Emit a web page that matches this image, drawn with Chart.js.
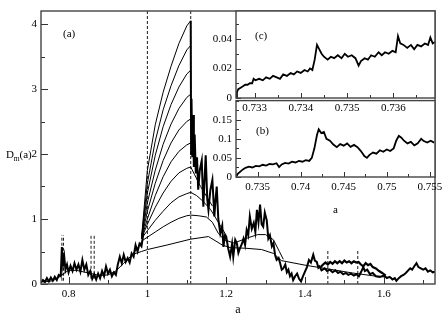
<!DOCTYPE html>
<html>
<head>
<meta charset="utf-8">
<script src="https://cdn.jsdelivr.net/npm/chart.js@4.4.1/dist/chart.umd.min.js"></script>
<style>
  html, body { margin: 0; padding: 0; background: #fff; }
  #wrap { position: relative; width: 447px; height: 327px; overflow: hidden; }
  canvas { position: absolute; }
  #mainChart { left: 0; top: 0; }
  #insetB { left: 196px; top: 90px; }
  #insetC { left: 196px; top: 0; }
</style>
</head>
<body>
<div id="wrap">
  <canvas id="mainChart" width="447" height="327"></canvas>
  <canvas id="insetB" width="251" height="130"></canvas>
  <canvas id="insetC" width="251" height="120"></canvas>
</div>
<script>
// ---- main panel (a): D_m(a) against a ----
const mainXTicks = [0.8, 1, 1.2, 1.4, 1.6];
const mainYTicks = [0, 1, 2, 3, 4];

// measured (noisy) curve; null splits it where the fan takes over
const mainA = [0.730, 0.735, 0.740, 0.745, 0.750, 0.755, 0.760, 0.765, 0.770, 0.775, 0.780, 0.783, 0.786, 0.789,
    0.792, 0.796, 0.800, 0.805, 0.810, 0.815, 0.820, 0.825, 0.830, 0.835, 0.840, 0.845, 0.850, 0.855, 0.860, 0.865,
    0.870, 0.875, 0.880, 0.885, 0.890, 0.895, 0.900, 0.905, 0.910, 0.915, 0.920, 0.925, 0.930, 0.935, 0.940, 0.945,
    0.950, 0.955, 0.960, 0.965, 0.970, 0.975, 0.980, 0.985, 0.990, 1.050,
    1.110, 1.111, 1.112, 1.114, 1.116, 1.118, 1.120, 1.123, 1.126, 1.129, 1.133, 1.138, 1.142, 1.145, 1.148, 1.152,
    1.155, 1.160, 1.165, 1.170, 1.173, 1.176, 1.180, 1.185, 1.190, 1.193, 1.197, 1.200, 1.205, 1.210, 1.215, 1.218,
    1.223, 1.227, 1.231, 1.235, 1.240, 1.244, 1.248, 1.252, 1.256, 1.260, 1.265, 1.270, 1.274, 1.278, 1.282, 1.286,
    1.290, 1.294, 1.298, 1.303, 1.307, 1.311, 1.316, 1.320, 1.324, 1.328, 1.333, 1.337, 1.341, 1.345, 1.350, 1.354,
    1.358, 1.362, 1.366, 1.370, 1.375, 1.380, 1.385, 1.390, 1.395, 1.400, 1.405, 1.410, 1.415, 1.421, 1.425, 1.430,
    1.434, 1.437, 1.442, 1.450, 1.456, 1.463, 1.470, 1.477, 1.484, 1.490, 1.497, 1.504, 1.510, 1.517, 1.524, 1.530,
    1.537, 1.542, 1.548, 1.552, 1.558, 1.565, 1.572, 1.580, 1.590, 1.600, 1.608, 1.615, 1.622, 1.628, 1.632, 1.638,
    1.644, 1.650, 1.656, 1.662, 1.667, 1.672, 1.677, 1.683, 1.688, 1.694, 1.700, 1.706, 1.712, 1.718, 1.724, 1.730];
const mainD = [0.02, 0.06, 0.03, 0.09, 0.04, 0.10, 0.05, 0.11, 0.06, 0.14, 0.12, 0.57, 0.30, 0.42,
    0.22, 0.30, 0.18, 0.28, 0.20, 0.32, 0.22, 0.30, 0.19, 0.37, 0.22, 0.30, 0.14, 0.20, 0.08, 0.15,
    0.07, 0.16, 0.09, 0.20, 0.12, 0.27, 0.16, 0.22, 0.12, 0.18, 0.14, 0.30, 0.42, 0.32, 0.45, 0.34,
    0.40, 0.33, 0.47, 0.42, 0.60, 0.50, 0.62, 0.58, 0.78, null,
    4.05, 2.00, 2.85, 1.95, 2.60, 1.80, 2.30, 1.70, 1.95, 1.45, 1.75, 1.90, 1.19, 1.60, 1.98, 1.30,
    1.14, 1.45, 1.60, 1.04, 1.30, 1.50, 1.00, 0.78, 0.90, 0.57, 0.75, 0.73, 0.55, 0.42, 0.62, 0.42,
    0.68, 0.63, 0.48, 0.55, 0.62, 0.70, 0.60, 0.83, 0.75, 1.04, 0.85, 0.94, 0.80, 1.14, 0.95, 1.22,
    0.92, 0.88, 1.10, 0.98, 0.70, 0.75, 0.58, 0.63, 0.45, 0.37, 0.40, 0.32, 0.22, 0.24, 0.30, 0.18,
    0.22, 0.12, 0.16, 0.06, 0.12, 0.16, 0.08, 0.04, 0.12, 0.19, 0.26, 0.37, 0.33, 0.45, 0.36, 0.34,
    0.25, 0.27, 0.21, 0.24, 0.20, 0.22, 0.18, 0.21, 0.17, 0.19, 0.15, 0.17, 0.14, 0.16, 0.13, 0.15,
    0.12, 0.18, 0.26, 0.20, 0.22, 0.15, 0.17, 0.12, 0.11, 0.13, 0.09, 0.11, 0.07, 0.09, 0.05, 0.09,
    0.12, 0.14, 0.17, 0.21, 0.24, 0.22, 0.27, 0.32, 0.26, 0.24, 0.22, 0.24, 0.19, 0.21, 0.18, 0.19];

// upper branch between the two dashed marks near 1.5
const branchA = [1.440, 1.446, 1.452, 1.458, 1.464, 1.470, 1.476, 1.482, 1.488, 1.494, 1.500, 1.506, 1.512, 1.518,
    1.524, 1.530, 1.536, 1.542, 1.548, 1.554, 1.560, 1.566, 1.572, 1.580, 1.588, 1.596, 1.605];
const branchD = [0.26, 0.30, 0.33, 0.30, 0.34, 0.31, 0.35, 0.32, 0.35, 0.32, 0.36, 0.33, 0.35, 0.32,
    0.35, 0.33, 0.34, 0.30, 0.27, 0.32, 0.29, 0.31, 0.26, 0.24, 0.20, 0.17, 0.13];

// fan of smooth curves between a = 1 and a = 1.11
const fanA = [0.985, 1.0, 1.02, 1.04, 1.06, 1.08, 1.10, 1.11];
const fanCurves = [
    [0.70, 1.75, 2.45, 2.95, 3.35, 3.70, 3.97, 4.05],
    [0.70, 1.55, 2.20, 2.68, 3.05, 3.36, 3.60, 3.67],
    [0.70, 1.40, 1.98, 2.42, 2.76, 3.03, 3.23, 3.29],
    [0.70, 1.25, 1.75, 2.15, 2.46, 2.70, 2.87, 2.92],
    [0.70, 1.12, 1.55, 1.90, 2.17, 2.37, 2.50, 2.54],
    [0.70, 1.00, 1.36, 1.65, 1.88, 2.04, 2.14, 2.17],
    [0.70, 0.92, 1.18, 1.40, 1.58, 1.71, 1.78, 1.80],
    [0.70, 0.82, 0.98, 1.12, 1.25, 1.34, 1.39, 1.41],
    [0.66, 0.72, 0.80, 0.88, 0.95, 1.01, 1.05, 1.06]
];
const tail180A = [1.12, 1.135, 1.15, 1.165];
const tail180D = [1.68, 1.50, 1.35, 1.20];
const tail141A = [1.125, 1.14, 1.16, 1.18, 1.20];
const tail141D = [1.36, 1.28, 1.15, 0.95, 0.75];
const tail106A = [1.13, 1.15, 1.165, 1.18, 1.195, 1.22, 1.25, 1.28, 1.30, 1.32, 1.335, 1.345];
const tail106D = [1.05, 1.03, 0.95, 0.78, 0.68, 0.63, 0.70, 0.76, 0.76, 0.68, 0.50, 0.38];

// lowest smooth curve and the smooth curve under the left part
const lowA = [0.96, 0.985, 1.0, 1.05, 1.11, 1.155, 1.19, 1.21, 1.25, 1.29, 1.32, 1.34, 1.40, 1.46, 1.52, 1.58, 1.62];
const lowD = [0.45, 0.50, 0.53, 0.60, 0.69, 0.73, 0.60, 0.56, 0.55, 0.53, 0.47, 0.36, 0.29, 0.23, 0.17, 0.12, 0.10];
const leftA = [0.735, 0.76, 0.775, 0.79, 0.80, 0.82, 0.85, 0.88, 0.90, 0.92, 0.94, 0.96, 0.975, 0.985];
const leftD = [0.03, 0.05, 0.10, 0.17, 0.21, 0.21, 0.17, 0.13, 0.14, 0.20, 0.32, 0.44, 0.55, 0.65];

// dashed vertical marks: position, lower and upper end
const markA = [0.783, 0.787, 0.857, 0.865, 1.0, 1.11, 1.458, 1.534];
const markLow = [0.05, 0.05, 0.08, 0.08, 0, 0, 0, 0];
const markHigh = [0.75, 0.75, 0.75, 0.75, 4.2, 4.2, 0.52, 0.52];

// ---- inset (c) ----
const cXTicks = [0.733, 0.734, 0.735, 0.736];
const cYTicks = [0, 0.02, 0.04];
const cA = [0.73260, 0.73262, 0.73265, 0.73270, 0.73275, 0.73280, 0.73285, 0.73290, 0.73295, 0.73298, 0.73302,
    0.73310, 0.73318, 0.73325, 0.73333, 0.73340, 0.73348, 0.73355, 0.73362, 0.73370, 0.73378, 0.73385, 0.73392,
    0.73400, 0.73408, 0.73415, 0.73420, 0.73425, 0.73430, 0.73435, 0.73440, 0.73445, 0.73450, 0.73458, 0.73465,
    0.73472, 0.73480, 0.73488, 0.73495, 0.73502, 0.73510, 0.73518, 0.73525, 0.73530, 0.73538, 0.73545, 0.73552,
    0.73560, 0.73568, 0.73575, 0.73582, 0.73590, 0.73598, 0.73605, 0.73610, 0.73615, 0.73622, 0.73630, 0.73638,
    0.73645, 0.73652, 0.73660, 0.73668, 0.73675, 0.73680, 0.73685, 0.73690];
const cD = [0.000, 0.004, 0.006, 0.007, 0.008, 0.009, 0.009, 0.010, 0.010, 0.013, 0.012,
    0.013, 0.012, 0.014, 0.013, 0.015, 0.014, 0.013, 0.016, 0.015, 0.017, 0.016, 0.018,
    0.017, 0.019, 0.018, 0.020, 0.019, 0.026, 0.036, 0.033, 0.030, 0.028, 0.026, 0.028,
    0.027, 0.029, 0.027, 0.030, 0.028, 0.029, 0.027, 0.022, 0.025, 0.027, 0.026, 0.029,
    0.028, 0.031, 0.029, 0.031, 0.030, 0.032, 0.031, 0.042, 0.037, 0.036, 0.034, 0.036,
    0.033, 0.036, 0.035, 0.037, 0.036, 0.041, 0.037, 0.038];

// ---- inset (b) ----
const bXTicks = [0.735, 0.74, 0.745, 0.75, 0.755];
const bYTicks = [0, 0.05, 0.1, 0.15];
const bA = [0.7325, 0.7327, 0.7330, 0.7333, 0.7336, 0.7340, 0.7344, 0.7348, 0.7352, 0.7356, 0.7360, 0.7364,
    0.7368, 0.7372, 0.7375, 0.7378, 0.7382, 0.7386, 0.7390, 0.7394, 0.7398, 0.7402, 0.7406, 0.7410, 0.7413,
    0.7416, 0.7419, 0.7421, 0.7424, 0.7427, 0.7430, 0.7434, 0.7438, 0.7442, 0.7446, 0.7450, 0.7454, 0.7458,
    0.7462, 0.7466, 0.7470, 0.7474, 0.7477, 0.7480, 0.7484, 0.7488, 0.7492, 0.7496, 0.7500, 0.7504, 0.7508,
    0.7511, 0.7514, 0.7517, 0.7520, 0.7524, 0.7528, 0.7532, 0.7536, 0.7540, 0.7543, 0.7547, 0.7551, 0.7555];
const bD = [0.000, 0.008, 0.014, 0.020, 0.024, 0.027, 0.025, 0.029, 0.028, 0.032, 0.030, 0.034,
    0.033, 0.036, 0.026, 0.033, 0.037, 0.035, 0.040, 0.038, 0.042, 0.040, 0.044, 0.042, 0.050,
    0.075, 0.110, 0.125, 0.115, 0.118, 0.100, 0.095, 0.085, 0.078, 0.086, 0.082, 0.088, 0.079,
    0.084, 0.078, 0.068, 0.055, 0.050, 0.058, 0.064, 0.061, 0.070, 0.066, 0.072, 0.068, 0.075,
    0.095, 0.108, 0.103, 0.095, 0.088, 0.092, 0.083, 0.088, 0.100, 0.094, 0.090, 0.095, 0.090];

const serif = '"Liberation Serif", "DejaVu Serif", serif';

function pts(xs, ys) {
    return xs.map((x, i) => ({ x: x, y: ys[i] }));
}

function line(data, width, dash) {
    return {
        data: data,
        borderColor: '#000',
        borderWidth: width,
        borderDash: dash || [],
        pointRadius: 0,
        tension: 0,
        fill: false,
        spanGaps: false
    };
}

// linear axis with fixed tick values, no grid, fixed thickness
function axis(min, max, tickValues, side, size, extra) {
    const s = {
        type: 'linear',
        min: min,
        max: max,
        grid: { display: false, drawTicks: false },
        border: { display: false },
        afterBuildTicks: sc => { sc.ticks = tickValues.map(v => ({ value: v })); },
        afterFit: sc => {
            if (side === 'x') sc.height = size;
            else sc.width = size;
        },
        ticks: {
            color: '#000',
            padding: 4,
            autoSkip: false,
            maxRotation: 0,
            font: { family: serif, size: 11 },
            callback: v => String(v)
        }
    };
    return Object.assign(s, extra || {});
}

// frame, inward tick marks and free text
const framePlugin = {
    id: 'frame',
    beforeDraw(chart, args, opts) {
        if (!opts.fill) return;
        const a = chart.chartArea;
        const ctx = chart.ctx;
        ctx.save();
        ctx.fillStyle = '#fff';
        ctx.fillRect(a.left, a.top, a.right - a.left, a.bottom - a.top);
        ctx.restore();
    },
    afterDatasetsDraw(chart, args, opts) {
        const a = chart.chartArea;
        const ctx = chart.ctx;
        const xs = chart.scales.x;
        const ys = chart.scales.y;
        ctx.save();
        ctx.strokeStyle = '#333';
        ctx.lineWidth = 1;
        ctx.beginPath();
        xs.ticks.forEach(t => {
            const p = Math.round(xs.getPixelForValue(t.value)) + 0.5;
            ctx.moveTo(p, a.bottom);
            ctx.lineTo(p, a.bottom - opts.major);
        });
        for (let k = Math.ceil(xs.min / opts.xMinor - 1e-6); k * opts.xMinor <= xs.max + 1e-9; k++) {
            const p = Math.round(xs.getPixelForValue(k * opts.xMinor)) + 0.5;
            ctx.moveTo(p, a.bottom);
            ctx.lineTo(p, a.bottom - opts.minor);
        }
        ys.ticks.forEach(t => {
            const p = Math.round(ys.getPixelForValue(t.value)) + 0.5;
            ctx.moveTo(a.left, p);
            ctx.lineTo(a.left + opts.major, p);
        });
        for (let k = Math.ceil(ys.min / opts.yMinor - 1e-6); k * opts.yMinor <= ys.max + 1e-9; k++) {
            const p = Math.round(ys.getPixelForValue(k * opts.yMinor)) + 0.5;
            ctx.moveTo(a.left, p);
            ctx.lineTo(a.left + opts.minor, p);
        }
        ctx.stroke();
        ctx.strokeStyle = '#444';
        ctx.lineWidth = 1.4;
        ctx.strokeRect(a.left, a.top, a.right - a.left, a.bottom - a.top);
        ctx.fillStyle = '#000';
        ctx.textBaseline = 'alphabetic';
        (opts.texts || []).forEach(t => {
            ctx.font = t.size + 'px ' + serif;
            ctx.fillText(t.text, t.x, t.y);
        });
        ctx.restore();
    }
};

// ---- build main chart ----
const mainSets = [];
mainSets.push(line(pts(mainA, mainD), 2));
mainSets.push(line(pts(branchA, branchD), 2.2));
fanCurves.forEach((c, i) => {
    let data = pts(fanA, c);
    if (i === 6) data = data.concat(pts(tail180A, tail180D));
    if (i === 7) data = data.concat(pts(tail141A, tail141D));
    if (i === 8) data = data.concat(pts(tail106A, tail106D));
    mainSets.push(line(data, 1));
});
mainSets.push(line(pts(lowA, lowD), 1));
mainSets.push(line(pts(leftA, leftD), 1));
markA.forEach((m, i) => {
    mainSets.push(line([{ x: m, y: markLow[i] }, { x: m, y: markHigh[i] }], 0.9, [3, 2]));
});

new Chart(document.getElementById('mainChart'), {
    type: 'line',
    data: { datasets: mainSets },
    plugins: [framePlugin],
    options: {
        responsive: false,
        animation: false,
        layout: { padding: { left: 0, right: 12, top: 11, bottom: 0 } },
        plugins: {
            legend: { display: false },
            tooltip: { enabled: false },
            frame: {
                major: 7, minor: 4, xMinor: 0.1, yMinor: 0.5,
                texts: [
                    { text: '(a)', x: 63, y: 37, size: 11 },
                    { text: 'D', x: 6, y: 158, size: 11 },
                    { text: 'm', x: 13.8, y: 161, size: 7.5 },
                    { text: '(a)', x: 19.5, y: 158, size: 11 }
                ]
            }
        },
        scales: {
            x: axis(0.73, 1.73, mainXTicks, 'x', 43, {
                title: { display: true, text: 'a', color: '#000', font: { family: serif, size: 12 }, padding: { top: 0, bottom: 10 } }
            }),
            y: axis(0, 4.2, mainYTicks, 'y', 41)
        }
    }
});

// ---- inset (b), drawn under inset (c) ----
new Chart(document.getElementById('insetB'), {
    type: 'line',
    data: { datasets: [line(pts(bA, bD), 1.8)] },
    plugins: [framePlugin],
    options: {
        responsive: false,
        animation: false,
        layout: { padding: { left: 0, right: 12, top: 8, bottom: 0 } },
        plugins: {
            legend: { display: false },
            tooltip: { enabled: false },
            frame: {
                fill: true, major: 5, minor: 3, xMinor: 0.0025, yMinor: 0.025,
                texts: [{ text: '(b)', x: 60, y: 44, size: 11 }]
            }
        },
        scales: {
            x: axis(0.7325, 0.7556, bXTicks, 'x', 43, {
                title: { display: true, text: 'a', color: '#000', font: { family: serif, size: 11 }, padding: { top: 0, bottom: 3 } }
            }),
            y: axis(0, 0.2, bYTicks, 'y', 40)
        }
    }
});

// ---- inset (c) ----
new Chart(document.getElementById('insetC'), {
    type: 'line',
    data: { datasets: [line(pts(cA, cD), 1.8)] },
    plugins: [framePlugin],
    options: {
        responsive: false,
        animation: false,
        layout: { padding: { left: 0, right: 12, top: 11, bottom: 0 } },
        plugins: {
            legend: { display: false },
            tooltip: { enabled: false },
            frame: {
                fill: true, major: 5, minor: 3, xMinor: 0.0005, yMinor: 0.01,
                texts: [{ text: '(c)', x: 59, y: 39, size: 11 }]
            }
        },
        scales: {
            x: axis(0.7326, 0.7369, cXTicks, 'x', 22),
            y: axis(0, 0.059, cYTicks, 'y', 40)
        }
    }
});
</script>
</body>
</html>
